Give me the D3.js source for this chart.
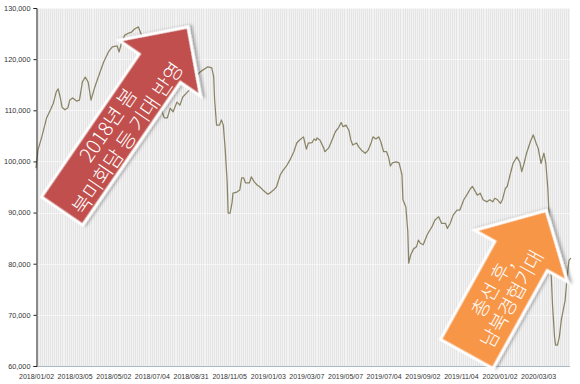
<!DOCTYPE html>
<html><head><meta charset="utf-8">
<script src="https://cdn.jsdelivr.net/npm/d3@7"></script>
<style>body{margin:0;background:#fff}svg{display:block}</style>
</head><body><svg id="c" width="580" height="384"></svg>
<script>
// trading-day index (from 2018/01/02) and closing values
const dayIndex = [0,2,6,11,15,18,21,23,25,27,30,33,35,38,42,45,48,51,54,57,61,66,70,75,79,84,86,89,92,96,99,102,106,108,113,118,123,128,133,136,139,142,146,149,152,156,159,163,166,170,173,178,182,184,185,187,190,192,194,196,198,199,201,203,204,208,211,213,215,217,221,223,226,229,232,235,240,242,246,249,253,256,260,263,267,270,273,277,280,282,286,288,290,291,294,298,299,303,306,310,313,316,318,321,324,326,328,332,334,337,341,344,347,349,352,355,357,360,363,365,367,369,373,376,379,380,383,385,386,388,391,394,396,398,401,405,407,410,413,417,420,424,426,429,432,436,439,443,446,450,452,455,457,460,463,467,470,473,475,478,481,483,486,488,491,494,498,501,503,505,508,512,515,518,520,523,526,528,530,531,533,535,537,538,540,542,544,548,550,552,554];
const closeValues = [98700,102200,104800,108500,110100,111400,113600,114200,112600,110600,110100,110500,112000,112400,111800,112000,115500,116500,115500,112000,114600,117300,119400,121400,122400,122600,121400,123500,124700,125100,125300,125900,126300,125300,122800,118900,114000,111000,108500,108500,110400,109700,111600,111000,112600,113400,114000,114800,116700,117500,117900,118500,118300,116600,112000,107100,107100,108100,107100,102200,95800,89900,89900,91900,93800,94000,94400,96800,96800,95800,95800,97000,96000,95400,95000,94400,93600,93800,94400,95000,97400,98300,99300,100300,101900,103600,104200,104800,102400,103600,103700,104400,104100,104600,104200,102600,101900,102600,103900,105800,106500,107600,106800,107100,106100,104200,103200,103600,102900,102200,101600,102200,103600,104800,104400,104800,103900,101900,101900,100900,99100,99700,99900,99700,97400,92500,91100,86400,80100,81700,82900,83300,84600,84000,83700,85600,86300,87200,88500,89200,87900,87900,86900,87900,89500,90500,90500,92500,93400,94700,95100,94100,93400,93800,92500,92100,92500,92100,92800,92500,91800,92500,94700,95100,97400,99600,100900,99900,98000,99300,101600,103900,105200,103500,102600,99600,101600,99600,94800,90900,80100,71600,65700,64100,64100,65700,69000,72900,77400,80700,81100];
const tickIndex = [0,40,80,120,160,200,240,280,320,360,400,440,480,520];
const tickLabels = ["2018/01/02","2018/03/05","2018/05/02","2018/07/04","2018/08/31","2018/11/05","2019/01/03","2019/03/07","2019/05/07","2019/07/04","2019/09/02","2019/11/04","2020/01/02","2020/03/03"];
const yTicks = [60000,70000,80000,90000,100000,110000,120000,130000];
const redArrowText = ["2018년 봄","북미회담 등 기대 반영"];
const orangeArrowText = ["총선 후,","남북경협기대"];

const svg = d3.select("#c");
const pL = 36, pR = 570, pT = 8, pB = 366;
const x = d3.scaleLinear().domain([0, 553]).range([pL, pR]);
const y = d3.scaleLinear().domain([60000, 130000]).range([pB, pT]);

// plot background
svg.append("rect").attr("x", pL).attr("y", pT).attr("width", pR-pL).attr("height", pB-pT).attr("fill", "#e4e4e4");
// vertical stripes
svg.append("g").attr("shape-rendering","crispEdges").selectAll("line").data(d3.range(0, 554, 2)).join("line")
  .attr("x1", d => x(d)).attr("x2", d => x(d)).attr("y1", pT).attr("y2", pB)
  .attr("stroke", "#f3f3f3").attr("stroke-width", 1);
// horizontal grid
svg.append("g").attr("shape-rendering","crispEdges").selectAll("line").data(yTicks).join("line")
  .attr("x1", pL).attr("x2", pR).attr("y1", d => Math.round(y(d))+0.5).attr("y2", d => Math.round(y(d))+0.5)
  .attr("stroke", "#f6f6f6").attr("stroke-width", 1);

// line
const pts = dayIndex.map((d,i) => [d, closeValues[i]]);
svg.append("path").datum(pts)
  .attr("d", d3.line().x(d => x(d[0])).y(d => y(d[1])))
  .attr("fill","none").attr("stroke","#8a8466").attr("stroke-width",1.25).attr("stroke-linejoin","round");

// x axis line
svg.append("line").attr("x1", pL).attr("x2", pR).attr("y1", pB+0.5).attr("y2", pB+0.5)
  .attr("stroke", "#a9b7c9").attr("stroke-width", 1);
// y axis
const yAxis = d3.axisLeft(y).tickValues(yTicks).tickFormat(d3.format(",")).tickSize(3).tickPadding(3);
const yg = svg.append("g").attr("transform", `translate(${pL+0.5},0)`).call(yAxis);
yg.select(".domain").attr("stroke","#222");
yg.selectAll(".tick line").attr("stroke","#222");
yg.selectAll("text").attr("font-family","Liberation Sans, Arial, sans-serif").attr("font-size","7.3px").attr("fill","#333");

// x axis labels
const xAxis = d3.axisBottom(x).tickValues(tickIndex).tickFormat((d,i) => tickLabels[i]).tickSize(0).tickPadding(8);
const xg = svg.append("g").attr("transform", `translate(0,${pB})`).call(xAxis);
xg.select(".domain").remove();
xg.selectAll("text").attr("font-family","Liberation Sans, Arial, sans-serif").attr("font-size","7px").attr("fill","#333");

// arrows
const defs = svg.append("defs");
const f = defs.append("filter").attr("id","sh").attr("x","-20%").attr("y","-20%").attr("width","140%").attr("height","140%");
f.append("feDropShadow").attr("dx",2).attr("dy",2).attr("stdDeviation",1.8).attr("flood-color","#000").attr("flood-opacity",0.3);

function arrow(tx, ty, ang, L, W, H, HL, fill, lines, s, fs) {
  const g = svg.append("g").attr("transform", `translate(${tx},${ty}) rotate(${ang})`);
  const p = [[0,-W/2],[L,-W/2],[L,-H/2],[L+HL,0],[L,H/2],[L,W/2],[0,W/2]];
  g.append("polygon").attr("points", p.map(q => q.join(",")).join(" "))
    .attr("fill", fill).attr("stroke","#fff").attr("stroke-width",3).attr("stroke-linejoin","miter")
    .attr("filter","url(#sh)");
  const lh = fs*1.18;
  lines.forEach((t,i) => {
    g.append("text").attr("x", s).attr("y", (i - (lines.length-1)/2)*lh)
      .attr("text-anchor","middle").attr("dominant-baseline","central")
      .attr("font-family","Noto Sans CJK KR, sans-serif").attr("font-weight",300)
      .attr("font-size", fs+"px").attr("fill","#fff").text(t);
  });
}
arrow(62, 211, -55.6, 173, 50, 99, 50, "#c0504d", redArrowText, 97, 20);
arrow(466.7, 354, -61, 112, 60, 106, 52, "#f79646", orangeArrowText, 70, 19.5);
</script></body></html>
